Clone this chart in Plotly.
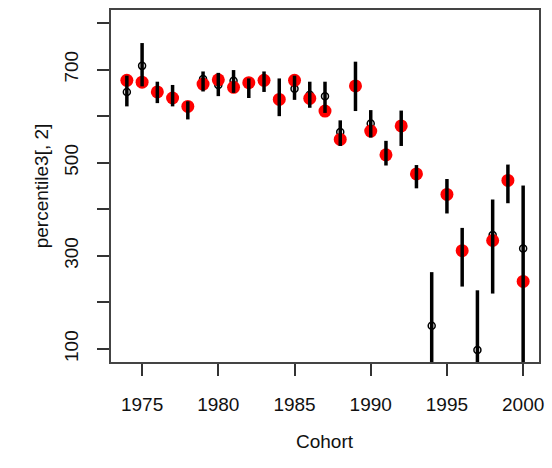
import plotly.graph_objects as go

years = list(range(1974, 2001))
red_vals = [677, 673, 652, 639, 621, 669, 678, 662, 672, 677, 636, 677, 638, 611,
            550, 665, 568, 517, 579, 476, None, 432, 311, None, 333, 462, 245]
open_vals = [652, 708, 652, 639, 621, 680, 667, 676, 672, 677, 636, 659, 646, 643,
             566, 665, 584, 517, 579, 476, 150, 432, 311, 98, 345, 462, 316]
upper = [687, 757, 674, 667, 632, 696, 693, 699, 681, 696, 681, 687, 674, 674,
         591, 717, 613, 547, 612, 495, 265, 465, 360, 226, 421, 496, 451]
lower = [621, 664, 628, 621, 593, 653, 643, 650, 639, 652, 600, 635, 618, 607,
         536, 611, 554, 494, 536, 445, 35, 391, 234, -30, 219, 413, 40]

y_ticks = [100, 200, 300, 400, 500, 600, 700, 800]
y_ticktext = ["100", "", "300", "", "500", "", "700", ""]
x_ticks = [1975, 1980, 1985, 1990, 1995, 2000]

err_plus = [u - m for u, m in zip(upper, open_vals)]
err_minus = [m - l for m, l in zip(open_vals, lower)]

fig = go.Figure()
# open circles (drawn first, underneath red points)
fig.add_trace(go.Scatter(
    x=years, y=open_vals, mode="markers",
    marker=dict(symbol="circle-open", size=7, color="black",
                line=dict(width=1.5, color="black")),
    showlegend=False, cliponaxis=True))
# red filled points
fig.add_trace(go.Scatter(
    x=years, y=red_vals, mode="markers",
    marker=dict(symbol="circle", size=13, color="#ff0000", line=dict(width=0)),
    showlegend=False, cliponaxis=True))
# vertical interval bars on top
fig.add_trace(go.Scatter(
    x=years, y=open_vals, mode="markers",
    marker=dict(size=1, color="rgba(0,0,0,0)"),
    error_y=dict(type="data", symmetric=False, array=err_plus, arrayminus=err_minus,
                 thickness=3.5, width=0, color="black"),
    showlegend=False, cliponaxis=True, hoverinfo="skip"))

font = dict(family="Liberation Sans, Arial, sans-serif", size=19, color="#111")
fig.update_layout(
    width=552, height=468,
    margin=dict(l=111, r=9, t=8, b=106),
    paper_bgcolor="white", plot_bgcolor="white",
    font=font,
    xaxis=dict(range=[1972.96, 2001.04], tickvals=x_ticks, ticks="outside", ticklen=12,
               tickwidth=1.5, tickcolor="#333", showline=True, linecolor="#444",
               linewidth=1.5, mirror=True, showgrid=False, zeroline=False,
               ticklabelstandoff=12),
    yaxis=dict(range=[72, 828], tickvals=y_ticks, ticktext=y_ticktext, ticks="outside",
               ticklen=12, tickwidth=1.5, tickcolor="#333", showline=True,
               linecolor="#444", linewidth=1.5, mirror=True, showgrid=False,
               zeroline=False, tickangle=-90, ticklabelstandoff=12),
    annotations=[
        dict(text="Cohort", x=0.5, y=0, xref="paper", yref="paper", showarrow=False,
             font=font),
        dict(text="percentile3[, 2]", x=0, y=0.5, xref="paper", yref="paper",
             showarrow=False, textangle=-90, font=font),
    ],
)
W, H = 552, 468
pw, ph = W - 111 - 9, H - 8 - 106
fig.layout.annotations[0].y = (H - 106 - 455) / ph
fig.layout.annotations[1].x = (28 - 111) / pw
fig.layout.annotations[1].y = (H - 106 - 185) / ph
fig.write_html("out.html")
